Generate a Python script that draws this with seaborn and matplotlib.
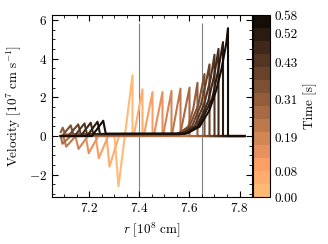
import matplotlib
matplotlib.use("Agg")
import numpy as np
import pandas as pd
import seaborn as sns
import matplotlib.pyplot as plt
from matplotlib.colors import ListedColormap, Normalize
from matplotlib.cm import ScalarMappable
from matplotlib.ticker import MultipleLocator

# snapshot times [s]
times = [0.00, 0.045, 0.089, 0.134, 0.178, 0.223, 0.268,
         0.312, 0.357, 0.402, 0.446, 0.491, 0.535, 0.58]

# radius [1e8 cm] for each snapshot
radius = [
    [7.085, 7.300, 7.316, 7.372, 7.372, 7.82],
    [7.085, 7.268, 7.280, 7.318, 7.377, 7.412, 7.412, 7.82],
    [7.085, 7.225, 7.237, 7.275, 7.417, 7.452, 7.452, 7.82],
    [7.085, 7.185, 7.197, 7.235, 7.457, 7.492, 7.492, 7.82],
    [7.085, 7.144, 7.156, 7.194, 7.494, 7.528, 7.528, 7.82],
    [7.085, 7.095, 7.107, 7.145, 7.529, 7.564, 7.564, 7.82],
    [7.085, 7.092, 7.125, 7.562, 7.600, 7.600, 7.82],
    [7.085, 7.093, 7.103, 7.560, 7.595, 7.615, 7.632, 7.632, 7.82],
    [7.085, 7.090, 7.125, 7.135, 7.550, 7.600, 7.635, 7.660, 7.660, 7.82],
    [7.085, 7.115, 7.155, 7.165, 7.560, 7.610, 7.645, 7.665, 7.680, 7.680, 7.82],
    [7.085, 7.140, 7.180, 7.190, 7.570, 7.620, 7.660, 7.685, 7.700, 7.700, 7.82],
    [7.085, 7.165, 7.205, 7.215, 7.575, 7.630, 7.675, 7.700, 7.716, 7.716, 7.82],
    [7.085, 7.190, 7.232, 7.242, 7.580, 7.635, 7.690, 7.715, 7.734, 7.734, 7.82],
    [7.085, 7.210, 7.255, 7.265, 7.590, 7.640, 7.680, 7.707, 7.727, 7.747, 7.754, 7.754, 7.82],
]

# velocity [1e7 cm/s] for each snapshot
velocity = [
    [0, 0, -2.6, 3.14, 0, 0],
    [0, 0, -1.58, 0, 0, 2.42, 0, 0],
    [0, 0, -1.15, 0, 0, 2.27, 0, 0],
    [0, 0, -0.89, 0, 0, 2.27, 0, 0],
    [0, 0, -0.67, 0, 0, 2.33, 0, 0],
    [0, 0, -0.55, 0, 0, 2.45, 0, 0],
    [0, -0.4, 0, 0.02, 2.5, 0, 0],
    [0.2, 0.43, 0.08, 0.08, 0.5, 1.4, 2.75, 0, 0],
    [0, 0, 0.55, 0.09, 0.1, 0.5, 1.6, 3.2, 0, 0],
    [0, 0, 0.6, 0.1, 0.1, 0.5, 1.6, 2.7, 3.7, 0, 0],
    [0, 0, 0.65, 0.1, 0.1, 0.5, 1.7, 3.0, 4.2, 0, 0],
    [0, 0, 0.69, 0.1, 0.11, 0.5, 1.8, 3.2, 4.5, 0, 0],
    [0, 0, 0.74, 0.11, 0.11, 0.5, 1.9, 3.4, 4.85, 0, 0],
    [0, 0, 0.79, 0.12, 0.13, 0.48, 1.34, 2.37, 3.4, 4.78, 5.57, 0, 0],
]

cbar_ticks = [0.00, 0.08, 0.19, 0.31, 0.43, 0.52, 0.58]
cbar_labels = ["0.00", "0.08", "0.19", "0.31", "0.43", "0.52", "0.58"]
marker_r = [7.4, 7.65]

plt.rcParams.update({
    "font.family": "serif",
    "font.serif": ["cmr10"],
    "mathtext.fontset": "cm",
    "axes.formatter.use_mathtext": True,
    "font.size": 9.5,
    "axes.unicode_minus": True,
})

rows = []
for t, rr, vv in zip(times, radius, velocity):
    for r, v in zip(rr, vv):
        rows.append({"r": r, "v": v, "t": t})
df = pd.DataFrame(rows)

colors = sns.color_palette("copper_r", len(times))
cmap = ListedColormap(colors)

fig = plt.figure(figsize=(3.28, 2.44), dpi=100)
ax = fig.add_axes([0.1585, 0.1926, 0.6098, 0.7459])
cax = fig.add_axes([0.7713, 0.1926, 0.052, 0.7459])

ax.vlines(marker_r, -3.15, 5.85, color="gray", lw=0.8, zorder=0)
sns.lineplot(data=df, x="r", y="v", hue="t", palette=dict(zip(times, colors)),
             sort=False, estimator=None, legend=False, linewidth=1.5, ax=ax)

ax.set_xlim(7.05, 7.85)
ax.set_ylim(-3.15, 6.25)
ax.set_xticks([7.2, 7.4, 7.6, 7.8])
ax.set_yticks([-2, 0, 2, 4, 6])
ax.xaxis.set_minor_locator(MultipleLocator(0.05))
ax.yaxis.set_minor_locator(MultipleLocator(0.5))
ax.tick_params(which="both", direction="in", top=True, right=True)
ax.tick_params(which="major", length=4, width=0.8)
ax.tick_params(which="minor", length=2, width=0.6)
ax.set_xlabel(r"$r\ [10^8\ \mathrm{cm}]$")
ax.set_ylabel(r"Velocity $[10^7\ \mathrm{cm\ s^{-1}}]$")

cbar = fig.colorbar(ScalarMappable(norm=Normalize(0, 0.58), cmap=cmap), cax=cax)
cbar.set_ticks(cbar_ticks)
cbar.set_ticklabels(cbar_labels)
cbar.ax.tick_params(length=0, pad=3)
cbar.set_label("Time [s]")

fig.savefig("out.png", dpi=100)
